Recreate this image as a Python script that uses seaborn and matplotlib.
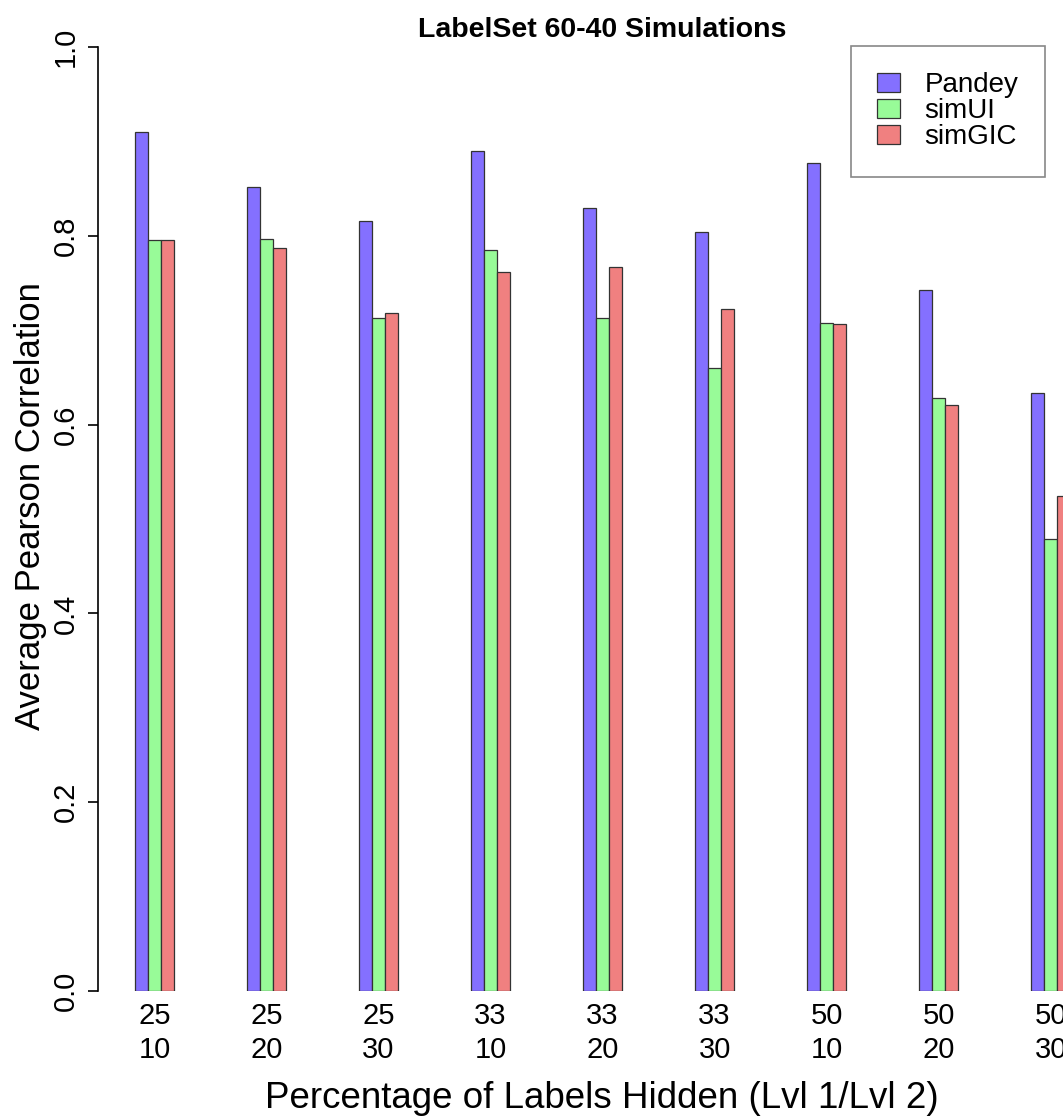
import pandas as pd
import matplotlib
matplotlib.use("Agg")
import matplotlib.pyplot as plt
import seaborn as sns

# bar heights (average Pearson correlation)
groups = ["25\n10", "25\n20", "25\n30", "33\n10", "33\n20", "33\n30", "50\n10", "50\n20", "50\n30"]
methods = ["Pandey", "simUI", "simGIC"]
pandey = [0.910, 0.852, 0.816, 0.890, 0.829, 0.804, 0.877, 0.743, 0.633]
simui = [0.796, 0.797, 0.713, 0.785, 0.713, 0.660, 0.708, 0.628, 0.479]
simgic = [0.796, 0.787, 0.718, 0.762, 0.767, 0.722, 0.707, 0.621, 0.524]
colors = ["#8470FF", "#98FB98", "#F08080"]

df = pd.DataFrame({
    "group": groups * 3,
    "method": [m for m in methods for _ in groups],
    "value": pandey + simui + simgic,
})

sns.set_style("ticks")
plt.rcParams["font.family"] = ["Liberation Sans", "DejaVu Sans"]
plt.rcParams["text.color"] = "black"
plt.rcParams["axes.labelcolor"] = "black"
plt.rcParams["xtick.color"] = "black"
plt.rcParams["ytick.color"] = "black"

W, H = 1063, 1117
fig = plt.figure(figsize=(W / 100, H / 100), dpi=100)
ax = fig.add_axes([98 / W, 1 - 991 / H, (W - 98) / W, (991 - 47) / H])

sns.barplot(data=df, x="group", y="value", hue="method", order=groups,
            hue_order=methods, palette=colors, width=0.348, gap=0,
            edgecolor="#333333", linewidth=0.9, saturation=1, ax=ax)

ax.set_ylim(0, 1)
ax.set_xlim(-0.504, 8.11)
ax.set_yticks([0, 0.2, 0.4, 0.6, 0.8, 1.0])
ax.set_yticklabels(["0.0", "0.2", "0.4", "0.6", "0.8", "1.0"], rotation=90, va="center")
ax.tick_params(axis="y", length=7, width=1.2, pad=6, labelsize=21)
ax.tick_params(axis="x", length=0, pad=8, labelsize=21)
for lab in ax.get_xticklabels():
    lab.set_linespacing(1.25)

sns.despine(ax=ax, bottom=True, right=True, top=True)
ax.spines["left"].set_linewidth(1.2)
ax.spines["left"].set_color("black")

ax.set_xlabel("Percentage of Labels Hidden (Lvl 1/Lvl 2)", fontsize=26.5)
ax.xaxis.label.set_va("center")
ax.xaxis.set_label_coords((602 - 98) / (W - 98), -(1098 - 991) / 944)
ax.set_ylabel("Average Pearson Correlation", fontsize=25)
ax.yaxis.label.set_va("center")
ax.yaxis.set_label_coords((31 - 98) / (W - 98), (991 - 506) / 944)

fig.text(602 / W, 1 - 30 / H, "LabelSet 60-40 Simulations", ha="center", va="center",
         fontsize=20.5, fontweight="bold")

leg = ax.legend(loc="upper left", bbox_to_anchor=(851 / W, 1 - 46 / H),
                bbox_transform=fig.transFigure, borderaxespad=0, fontsize=20,
                frameon=True, fancybox=False, framealpha=1, edgecolor="#888888",
                handlelength=0.8, handleheight=0.65, handletextpad=0.9,
                labelspacing=0.0, borderpad=0.95, title=None)
leg.get_frame().set_linewidth(1.2)

fig.savefig("out.png", dpi=100)
